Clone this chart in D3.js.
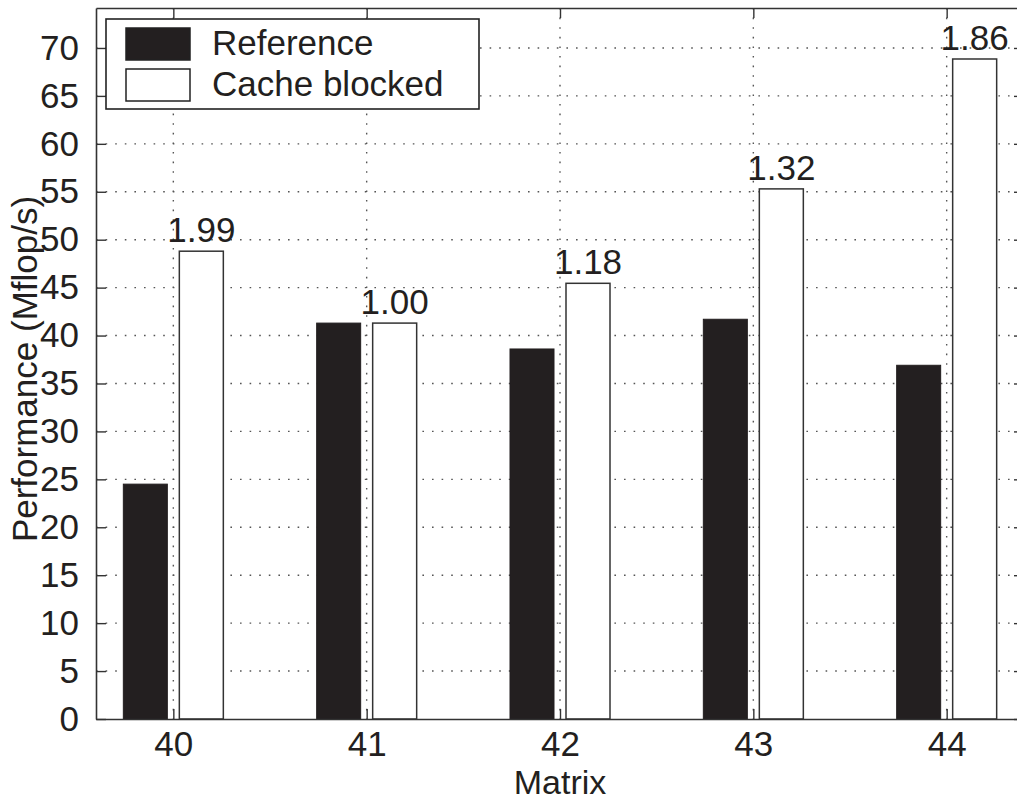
<!DOCTYPE html>
<html>
<head>
<meta charset="utf-8">
<script src="https://cdn.jsdelivr.net/npm/d3@7"></script>
<style>
  html, body { margin: 0; padding: 0; background: #fff; }
  svg { display: block; }
  text { font-family: "Liberation Sans", Arial, Helvetica, sans-serif; fill: #231f20; }
</style>
</head>
<body>
<svg id="chart" width="1017" height="802"></svg>
<script>
// Matrix ids along the x axis
const matrices = [40, 41, 42, 43, 44];
// Performance in Mflop/s
const referencePerf = [24.5, 41.3, 38.6, 41.7, 36.9];
const blockedPerf   = [48.8, 41.3, 45.45, 55.3, 68.85];
// Speedup labels printed above the cache-blocked bars
const speedupLabels = ["1.99", "1.00", "1.18", "1.32", "1.86"];
// Y axis ticks
const yTicks = [0, 5, 10, 15, 20, 25, 30, 35, 40, 45, 50, 55, 60, 65, 70];
const seriesNames = ["Reference", "Cache blocked"];

const svg = d3.select("#chart");
const plotL = 96, plotR = 1024, plotT = 8, plotB = 719;
const ink = "#231f20";

const x = d3.scaleLinear().domain([39.6, 44.4]).range([plotL, plotR]);
const y = d3.scaleLinear().domain([0, 74.17]).range([plotB, plotT]);

const barW = 44, barGap = 6;

// dotted grid, behind the bars
const grid = svg.append("g");
grid.selectAll("line.h").data(yTicks.filter(d => d > 0)).join("line")
  .attr("x1", plotL).attr("x2", plotR)
  .attr("y1", d => y(d)).attr("y2", d => y(d))
  .attr("stroke", "#555").attr("stroke-width", 1.4)
  .attr("stroke-dasharray", "1.6,8");
grid.selectAll("line.v").data(matrices).join("line")
  .attr("x1", d => x(d)).attr("x2", d => x(d))
  .attr("y1", plotT).attr("y2", plotB)
  .attr("stroke", "#555").attr("stroke-width", 1.4)
  .attr("stroke-dasharray", "1.6,8");

// bars
const bars = svg.append("g");
bars.selectAll("rect.ref").data(matrices).join("rect")
  .attr("class", "ref")
  .attr("x", d => x(d) - barGap - barW)
  .attr("width", barW)
  .attr("y", (d, i) => y(referencePerf[i]))
  .attr("height", (d, i) => plotB - y(referencePerf[i]))
  .attr("fill", ink).attr("stroke", ink).attr("stroke-width", 1);
bars.selectAll("rect.blk").data(matrices).join("rect")
  .attr("class", "blk")
  .attr("x", d => x(d) + barGap)
  .attr("width", barW)
  .attr("y", (d, i) => y(blockedPerf[i]))
  .attr("height", (d, i) => plotB - y(blockedPerf[i]))
  .attr("fill", "#fff").attr("stroke", "#333").attr("stroke-width", 1.5);

// speedup labels
svg.append("g").selectAll("text").data(matrices).join("text")
  .attr("x", d => x(d) + barGap + barW / 2)
  .attr("y", (d, i) => y(blockedPerf[i]) - 9)
  .attr("text-anchor", "middle")
  .attr("font-size", 35)
  .text((d, i) => speedupLabels[i]);

// axes: left/bottom with labels, top/right mirrored ticks, all inward
const yAxisL = d3.axisLeft(y).tickValues(yTicks).tickSizeInner(-10).tickSizeOuter(0).tickPadding(17);
const yAxisR = d3.axisRight(y).tickValues(yTicks).tickSizeInner(-10).tickSizeOuter(0).tickFormat("");
const xAxisB = d3.axisBottom(x).tickValues(matrices).tickSizeInner(-10).tickSizeOuter(0).tickPadding(12).tickFormat(d3.format("d"));
const xAxisT = d3.axisTop(x).tickValues(matrices).tickSizeInner(-10).tickSizeOuter(0).tickFormat("");

function styleAxis(g) {
  g.select(".domain").attr("stroke", "#333").attr("stroke-width", 1.6);
  g.selectAll(".tick line").attr("stroke", "#333").attr("stroke-width", 1.4);
  g.selectAll(".tick text").attr("fill", ink).attr("font-size", 35)
    .attr("font-family", "Liberation Sans, Arial, sans-serif");
}
svg.append("g").attr("transform", `translate(${plotL},0)`).call(yAxisL).call(styleAxis);
svg.append("g").attr("transform", `translate(${plotR},0)`).call(yAxisR).call(styleAxis);
svg.append("g").attr("transform", `translate(0,${plotB})`).call(xAxisB).call(styleAxis);
svg.append("g").attr("transform", `translate(0,${plotT})`).call(xAxisT).call(styleAxis);

// axis titles
svg.append("text")
  .attr("x", x(42)).attr("y", 794)
  .attr("text-anchor", "middle").attr("font-size", 34)
  .text("Matrix");
svg.append("text")
  .attr("transform", "translate(37,369) rotate(-90)")
  .attr("text-anchor", "middle").attr("font-size", 35)
  .text("Performance (Mflop/s)");

// legend
const lg = svg.append("g");
lg.append("rect").attr("x", 106).attr("y", 19).attr("width", 373).attr("height", 90)
  .attr("fill", "#fff").attr("stroke", "#222").attr("stroke-width", 1.6);
const swatchFill = [ink, "#fff"];
const rowY = [28, 69];
const baseY = [55, 96];
seriesNames.forEach((name, i) => {
  lg.append("rect").attr("x", 126).attr("y", rowY[i]).attr("width", 64).attr("height", 32)
    .attr("fill", swatchFill[i]).attr("stroke", "#222").attr("stroke-width", 1.5);
  lg.append("text").attr("x", 212).attr("y", baseY[i]).attr("font-size", 35).text(name);
});
</script>
</body>
</html>
